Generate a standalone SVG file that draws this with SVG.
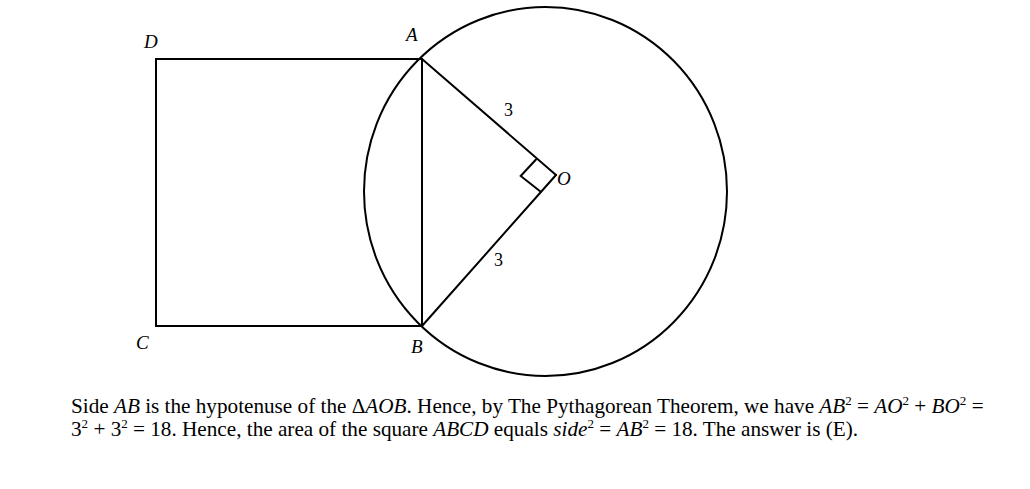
<svg xmlns="http://www.w3.org/2000/svg" width="1030" height="489" viewBox="0 0 1030 489">
<style>
.ln{fill:none;stroke:#000;stroke-width:2;stroke-linecap:round;stroke-linejoin:miter}
.lbl{font-family:"Liberation Serif","Times New Roman",serif;font-size:19px;font-style:italic;fill:#000}
.num{font-family:"Liberation Serif","Times New Roman",serif;font-size:18px;fill:#000}
.body{font-family:"Liberation Serif","Times New Roman",serif;font-size:21.2px;fill:#000}
.i{font-style:italic}
.sup{font-size:13px}
</style>
<rect width="1030" height="489" fill="#fff"/>
<g id="connectors">
<polyline class="ln" points="422,59 156,59 156,326 422,326"/>
<line class="ln" x1="422" y1="59" x2="422" y2="326"/>
<line class="ln" x1="422" y1="59" x2="556" y2="175"/>
<line class="ln" x1="422" y1="326" x2="556" y2="175"/>
<path class="ln" d="M536,159.5 L520.7,176 L540.7,191.7"/>
</g>
<g id="circle"><ellipse class="ln" cx="545.5" cy="191.5" rx="181.5" ry="184.5"/></g>
<g id="A"><text class="lbl" x="406" y="41">A</text></g>
<g id="B"><text class="lbl" x="411" y="353">B</text></g>
<g id="C"><text class="lbl" x="136" y="349">C</text></g>
<g id="D"><text class="lbl" x="144" y="48">D</text></g>
<g id="O"><text class="lbl" x="557" y="185">O</text></g>
<g id="AO-label"><text class="num" x="504" y="116">3</text></g>
<g id="BO-label"><text class="num" x="494" y="266">3</text></g>
<g id="caption">
<text class="body" x="71" y="413">Side <tspan class="i">AB</tspan> is the hypotenuse of the Δ<tspan class="i">AOB</tspan>. Hence, by The Pythagorean Theorem, we have <tspan class="i">AB</tspan><tspan class="sup" dy="-8">2</tspan><tspan dy="8"> = </tspan><tspan class="i">AO</tspan><tspan class="sup" dy="-8">2</tspan><tspan dy="8"> + </tspan><tspan class="i">BO</tspan><tspan class="sup" dy="-8">2</tspan><tspan dy="8"> =</tspan></text>
<text class="body" x="71" y="436">3<tspan class="sup" dy="-8">2</tspan><tspan dy="8"> + 3</tspan><tspan class="sup" dy="-8">2</tspan><tspan dy="8"> = 18. Hence, the area of the square </tspan><tspan class="i">ABCD</tspan> equals <tspan class="i">side</tspan><tspan class="sup" dy="-8">2</tspan><tspan dy="8"> = </tspan><tspan class="i">AB</tspan><tspan class="sup" dy="-8">2</tspan><tspan dy="8"> = 18. The answer is (E).</tspan></text>
</g>
</svg>
